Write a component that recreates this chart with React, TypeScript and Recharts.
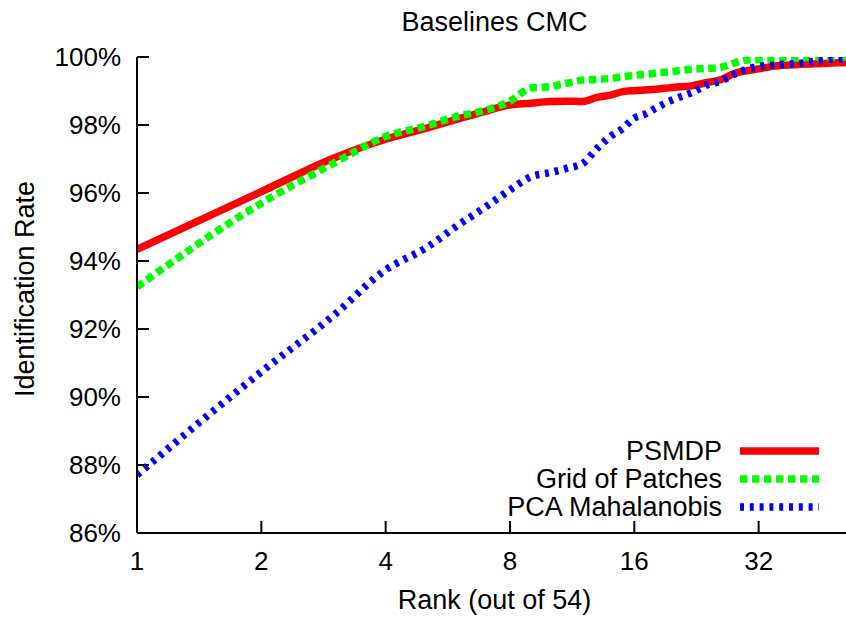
import { Legend, Line, LineChart, XAxis, YAxis } from 'recharts';

// CMC curves, identification rate (%) at each rank
const ranks = [1, 2, 3, 4, 5, 6, 7, 8, 9, 10, 11, 12, 13, 14, 15, 16, 17, 18, 19, 20, 22, 24, 26, 28, 30, 32, 34, 36, 40, 44, 48, 54];
const psmdp = [94.34, 96.04, 97.03, 97.58, 97.9, 98.18, 98.41, 98.59, 98.64, 98.69, 98.7, 98.69, 98.81, 98.88, 98.98, 99.01, 99.03, 99.05, 99.08, 99.11, 99.15, 99.25, 99.34, 99.52, 99.6, 99.65, 99.71, 99.75, 99.78, 99.8, 99.82, 99.85];
const gridOfPatches = [93.24, 95.7, 96.88, 97.66, 97.97, 98.26, 98.44, 98.7, 99.09, 99.13, 99.23, 99.32, 99.34, 99.37, 99.42, 99.46, 99.49, 99.52, 99.55, 99.58, 99.64, 99.66, 99.7, 99.83, 99.91, 99.92, 99.94, 99.96, 99.97, 100, 100, 100];
const pcaMahalanobis = [87.71, 90.74, 92.41, 93.74, 94.38, 95.06, 95.6, 96.09, 96.48, 96.6, 96.73, 96.87, 97.31, 97.66, 97.9, 98.2, 98.32, 98.49, 98.64, 98.76, 98.95, 99.18, 99.3, 99.5, 99.64, 99.72, 99.75, 99.78, 99.81, 99.88, 99.93, 99.95];

const xTicks = [1, 2, 4, 8, 16, 32];
const yTicks = [86, 88, 90, 92, 94, 96, 98, 100];

const series = [
  { key: 'psmdp', name: 'PSMDP', color: '#ff0000', dash: undefined as string | undefined },
  { key: 'grid', name: 'Grid of Patches', color: '#00ff00', dash: '7.5 4.5' },
  { key: 'pca', name: 'PCA Mahalanobis', color: '#0000ff', dash: '4 5.8' },
];

const data = ranks.map((rank, i) => ({
  rank,
  psmdp: psmdp[i],
  grid: gridOfPatches[i],
  pca: pcaMahalanobis[i],
}));

const FONT = '"Liberation Sans", Arial, Helvetica, sans-serif';
const FS = 27; // title, axis labels, legend
const TICK_FS = 26;
const TICK_LEN = 12;

function BottomTick({ x, y, payload }: any) {
  return (
    <g>
      <line x1={x} y1={y} x2={x} y2={y - TICK_LEN} stroke="#000" strokeWidth={2} />
      <text x={x} y={y + 37} textAnchor="middle" fontFamily={FONT} fontSize={TICK_FS} fill="#000">
        {payload.value}
      </text>
    </g>
  );
}

function TopTick({ x, y }: any) {
  return <line x1={x} y1={y} x2={x} y2={y + TICK_LEN} stroke="#000" strokeWidth={2} />;
}

function LeftTick({ x, y, payload }: any) {
  return (
    <g>
      <line x1={x} y1={y} x2={x + TICK_LEN} y2={y} stroke="#000" strokeWidth={2} />
      <text x={x - 16} y={y} dy="0.36em" textAnchor="end" fontFamily={FONT} fontSize={TICK_FS} fill="#000">
        {`${payload.value}%`}
      </text>
    </g>
  );
}

function RightTick({ x, y }: any) {
  return <line x1={x} y1={y} x2={x - TICK_LEN} y2={y} stroke="#000" strokeWidth={2} />;
}

// legend keeps the plotting order (PSMDP, Grid, PCA) rather than recharts' sorted payload
function LegendBox() {
  return (
    <svg width={345} height={90} style={{ display: 'block' }}>
      {series.map((s, i) => {
        const cy = 15 + i * 28;
        return (
          <g key={s.key}>
            <text x={242} y={cy + 9} textAnchor="end" fontFamily={FONT} fontSize={FS} fill="#000">
              {s.name}
            </text>
            <line x1={260} y1={cy} x2={339} y2={cy} stroke={s.color} strokeWidth={7.5} strokeDasharray={s.dash} />
          </g>
        );
      })}
    </svg>
  );
}

export default function App() {
  return (
    <div
      style={{
        position: 'fixed',
        left: 0,
        top: 0,
        width: 846,
        height: 617,
        overflow: 'hidden',
        background: '#fff',
      }}
    >
      <svg width={846} height={40} style={{ position: 'absolute', left: 0, top: 0 }}>
        <text x={494.5} y={31} textAnchor="middle" fontFamily={FONT} fontSize={FS} fill="#000">
          Baselines CMC
        </text>
      </svg>
      <LineChart width={860} height={617} data={data} margin={{ top: 57, right: 7.5, bottom: 0, left: 0 }}>
        <XAxis
          dataKey="rank"
          type="number"
          scale="log"
          domain={[1, 54]}
          ticks={xTicks}
          allowDataOverflow
          height={84}
          tickSize={0}
          tickMargin={0}
          tickLine={false}
          axisLine={{ stroke: '#000', strokeWidth: 2 }}
          tick={<BottomTick />}
          label={{
            content: () => (
              <text x={494.5} y={609} textAnchor="middle" fontFamily={FONT} fontSize={FS} fill="#000">
                Rank (out of 54)
              </text>
            ),
          }}
        />
        <XAxis
          xAxisId="top"
          orientation="top"
          dataKey="rank"
          type="number"
          scale="log"
          domain={[1, 54]}
          ticks={xTicks}
          allowDataOverflow
          height={0}
          tickSize={0}
          tickMargin={0}
          tickLine={false}
          axisLine={{ stroke: '#000', strokeWidth: 2 }}
          tick={<TopTick />}
        />
        <YAxis
          type="number"
          domain={[86, 100]}
          ticks={yTicks}
          allowDataOverflow
          width={137}
          tickSize={0}
          tickMargin={0}
          tickLine={false}
          axisLine={{ stroke: '#000', strokeWidth: 2 }}
          tick={<LeftTick />}
          label={{
            content: () => (
              <text
                x={34}
                y={289}
                transform="rotate(-90 34 289)"
                textAnchor="middle"
                fontFamily={FONT}
                fontSize={FS}
                fill="#000"
              >
                Identification Rate
              </text>
            ),
          }}
        />
        <YAxis
          yAxisId="right"
          orientation="right"
          type="number"
          domain={[86, 100]}
          ticks={yTicks}
          allowDataOverflow
          width={0}
          tickSize={0}
          tickMargin={0}
          tickLine={false}
          axisLine={{ stroke: '#000', strokeWidth: 2 }}
          tick={<RightTick />}
        />
        {series.map((s) => (
          <Line
            key={s.key}
            dataKey={s.key}
            name={s.name}
            type="monotone"
            stroke={s.color}
            strokeWidth={7.5}
            strokeDasharray={s.dash}
            dot={false}
            activeDot={false}
            isAnimationActive={false}
          />
        ))}
        <Legend
          layout="horizontal"
          verticalAlign="middle"
          align="center"
          content={<LegendBox />}
          wrapperStyle={{ position: 'absolute', left: 480, top: 436, width: 345, height: 90 }}
        />
      </LineChart>
    </div>
  );
}
